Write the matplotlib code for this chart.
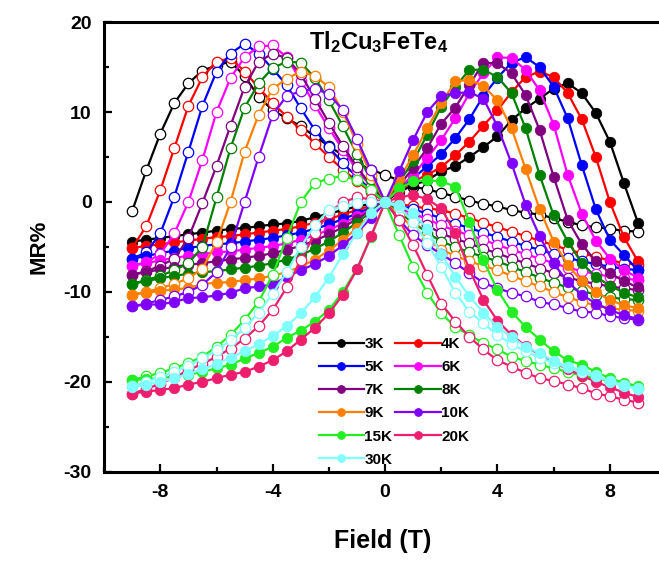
import matplotlib
matplotlib.use("Agg")
import matplotlib.pyplot as plt
from matplotlib.ticker import MultipleLocator

plt.rcParams['font.family'] = ['Liberation Sans', 'DejaVu Sans']
plt.rcParams['font.weight'] = 'bold'
plt.rcParams['axes.unicode_minus'] = False
plt.rcParams['mathtext.fontset'] = 'custom'
plt.rcParams['mathtext.bf'] = 'Liberation Sans:bold'
plt.rcParams['mathtext.rm'] = 'Liberation Sans:bold'

# field grid (T), -9 .. 9 in 0.5 T steps
field = [-9, -8.5, -8, -7.5, -7, -6.5, -6, -5.5, -5, -4.5, -4, -3.5, -3, -2.5, -2, -1.5, -1, -0.5,
         0, 0.5, 1, 1.5, 2, 2.5, 3, 3.5, 4, 4.5, 5, 5.5, 6, 6.5, 7, 7.5, 8, 8.5, 9]

temps = ['3K', '4K', '5K', '6K', '7K', '8K', '9K', '10K', '15K', '20K', '30K']
colors = ['#000000', '#ff0000', '#0000ff', '#ff00ff', '#800080', '#008000',
          '#ff8000', '#8000ff', '#22ee22', '#ee1e6e', '#80ffff']

# sweep up (-9 -> 9), filled symbols
mr_up_3K = [-4.4, -4.2, -4.0, -3.8, -3.6, -3.4, -3.2, -3.0, -2.9, -2.7, -2.5, -2.4, -2.1, -1.7, -1.3, -0.9, -0.5, -0.2,
            0, 1.1, 1.9, 2.4, 3.4, 4.0, 5.0, 6.1, 7.3, 9.1, 10.4, 11.5, 12.6, 13.2, 12.1, 9.9, 6.7, 2.1, -2.3]
mr_up_4K = [-5.1, -4.9, -4.7, -4.5, -4.3, -4.1, -3.9, -3.8, -3.6, -3.4, -3.2, -3.0, -2.7, -2.3, -1.9, -1.4, -0.9, -0.4,
            0, 1.3, 2.3, 3.0, 3.9, 5.2, 6.7, 8.5, 10.2, 12.2, 13.9, 14.5, 13.9, 12.1, 9.2, 5.0, 0.0, -3.9, -6.6]
mr_up_5K = [-6.3, -6.0, -5.7, -5.4, -5.1, -4.9, -4.7, -4.6, -4.4, -4.2, -4.0, -3.7, -3.4, -3.0, -2.5, -1.9, -1.3, -0.6,
            0, 1.5, 2.6, 4.0, 5.3, 7.1, 9.2, 11.8, 13.8, 15.5, 16.1, 15.0, 12.8, 9.3, 4.1, -0.8, -4.2, -5.9, -7.6]
mr_up_6K = [-7.1, -6.8, -6.5, -6.2, -6.0, -5.8, -5.6, -5.5, -5.3, -5.1, -4.9, -4.6, -4.2, -3.7, -3.1, -2.4, -1.6, -0.8,
            0, 1.5, 3.0, 4.9, 6.9, 9.3, 12.1, 14.3, 16.1, 16.0, 14.7, 12.4, 8.6, 3.0, -1.3, -4.3, -6.3, -7.6, -8.4]
mr_up_7K = [-8.1, -7.8, -7.5, -7.2, -7.0, -6.8, -6.6, -6.4, -6.2, -6.0, -5.7, -5.3, -4.9, -4.3, -3.6, -2.8, -1.9, -0.9,
            0, 1.8, 3.8, 6.0, 8.7, 10.5, 13.0, 15.5, 15.4, 14.3, 11.9, 8.0, 2.8, -2.0, -4.7, -6.6, -7.9, -8.8, -9.5]
mr_up_8K = [-9.1, -8.8, -8.5, -8.2, -8.0, -7.8, -7.7, -7.5, -7.3, -7.1, -6.8, -6.4, -5.9, -5.2, -4.4, -3.4, -2.3, -1.1,
            0, 2.2, 4.5, 7.5, 10.6, 12.8, 14.7, 14.7, 13.9, 12.1, 8.2, 3.0, -1.5, -4.4, -6.8, -8.3, -9.3, -10.1, -10.6]
mr_up_9K = [-10.3, -10.1, -9.9, -9.7, -9.6, -9.1, -9.0, -8.9, -8.7, -8.5, -8.2, -7.8, -7.2, -6.4, -5.4, -4.2, -2.9, -1.4,
            0, 2.5, 5.2, 8.2, 11.0, 13.4, 13.6, 12.9, 11.3, 8.2, 3.7, -0.8, -4.4, -7.0, -8.8, -10.0, -10.9, -11.5, -11.8]
mr_up_10K = [-11.6, -11.4, -11.4, -11.1, -10.7, -10.6, -10.4, -10.1, -9.6, -9.4, -9.2, -8.3, -7.6, -6.9, -6.0, -4.8, -3.4, -1.8,
             0, 3.4, 6.9, 10.0, 11.8, 12.1, 12.2, 11.5, 8.4, 4.3, -0.3, -3.8, -6.8, -8.9, -10.3, -11.3, -12.0, -12.6, -13.0]
mr_up_15K = [-19.8, -19.7, -19.6, -19.4, -19.2, -18.9, -18.5, -18.1, -17.4, -16.8, -16.1, -15.1, -14.3, -13.3, -12.0, -10.0, -7.4, -3.9,
             0, 1.5, 2.3, 2.4, 2.3, 1.7, -2.2, -6.5, -9.8, -12.2, -13.9, -15.3, -16.6, -17.6, -18.1, -18.9, -19.6, -20.1, -20.5]
mr_up_20K = [-21.3, -21.1, -20.9, -20.7, -20.3, -20.0, -19.6, -19.2, -18.9, -18.3, -17.6, -16.6, -15.3, -14.0, -12.4, -10.3, -7.5, -3.8,
             0, 0.5, 0.8, 0.3, -0.7, -3.5, -7.5, -10.9, -13.2, -14.8, -16.0, -17.0, -17.8, -18.6, -19.3, -20.0, -20.6, -21.2, -21.7]
mr_up_30K = [-20.6, -20.3, -20.0, -19.6, -19.1, -18.6, -18.0, -17.3, -16.6, -15.8, -14.9, -13.8, -12.4, -10.6, -8.4, -5.8, -3.4, -1.2,
             0, -0.3, -1.2, -3.0, -5.8, -8.3, -10.5, -12.3, -13.9, -15.0, -16.1, -16.8, -17.7, -18.3, -18.7, -19.2, -20.0, -20.5, -20.7]

# sweep down (9 -> -9), open symbols
mr_dn_3K = [-1.0, 3.5, 7.6, 11.0, 13.2, 14.6, 15.2, 15.6, 14.0, 11.7, 10.2, 9.3, 8.4, 7.3, 6.2, 5.2, 4.3, 3.6,
            3.0, 2.4, 1.7, 1.4, 1.0, 0.6, 0.15, -0.2, -0.5, -0.9, -1.2, -1.4, -1.8, -2.2, -2.6, -2.8, -3.0, -3.2, -3.3]
mr_dn_4K = [-5.1, -2.7, 1.3, 6.0, 10.7, 13.9, 15.6, 16.0, 14.5, 12.7, 11.0, 9.5, 8.0, 6.5, 5.0, 3.6, 2.3, 1.1,
            0, -0.2, -0.5, -0.7, -0.9, -1.3, -1.8, -2.3, -2.8, -3.3, -3.8, -4.3, -4.8, -5.3, -5.7, -6.1, -6.5, -6.8, -7.0]
mr_dn_5K = [-6.3, -5.6, -3.5, 0.6, 5.6, 10.7, 14.5, 16.5, 17.6, 16.5, 14.8, 13.0, 10.4, 8.0, 6.1, 4.3, 2.8, 1.3,
            0, -0.4, -0.8, -1.3, -1.8, -2.4, -2.9, -3.4, -3.9, -4.4, -4.9, -5.3, -5.8, -6.2, -6.6, -6.9, -7.2, -7.4, -7.6]
mr_dn_6K = [-7.1, -6.7, -5.8, -3.5, 0.0, 4.7, 10.0, 13.8, 16.1, 17.3, 17.4, 16.1, 13.5, 10.8, 8.2, 5.8, 3.6, 1.7,
            0, -0.7, -1.3, -1.9, -2.6, -3.2, -3.7, -4.2, -4.8, -5.3, -5.8, -6.3, -6.8, -7.3, -7.7, -8.0, -8.3, -8.5, -8.7]
mr_dn_7K = [-8.1, -7.7, -7.1, -6.3, -4.0, -0.1, 4.0, 8.5, 12.8, 15.6, 16.5, 16.0, 14.2, 11.5, 8.8, 6.2, 3.9, 1.8,
            0, -0.9, -1.8, -2.6, -3.5, -4.1, -4.6, -5.2, -5.7, -6.3, -6.8, -7.4, -7.9, -8.4, -8.8, -9.1, -9.4, -9.6, -9.8]
mr_dn_8K = [-9.1, -8.7, -8.2, -7.6, -6.8, -5.0, 0.5, 6.0, 10.5, 13.2, 14.9, 15.6, 15.5, 13.8, 11.3, 8.4, 5.3, 2.5,
            0, -1.2, -2.3, -3.4, -4.4, -5.0, -5.6, -6.1, -6.6, -7.2, -7.8, -8.4, -9.0, -9.5, -9.9, -10.3, -10.6, -10.8, -10.9]
mr_dn_9K = [-10.3, -10.0, -9.6, -9.1, -8.5, -7.4, -4.5, 0.0, 5.6, 9.7, 12.6, 13.7, 14.5, 14.0, 12.8, 10.0, 6.5, 3.0,
            0, -1.5, -2.8, -4.1, -5.3, -6.0, -6.6, -7.1, -7.6, -8.2, -8.8, -9.4, -10.0, -10.6, -11.1, -11.5, -11.8, -12.0, -12.1]
mr_dn_10K = [-11.6, -11.3, -10.9, -10.5, -10.0, -9.2, -7.8, -5.0, 0.0, 5.0, 9.7, 11.8, 12.3, 12.6, 12.0, 10.2, 7.0, 3.5,
             0, -2.0, -3.7, -4.8, -5.8, -6.8, -7.9, -9.0, -9.6, -10.1, -10.5, -11.1, -11.4, -11.8, -12.2, -12.3, -12.7, -12.9, -13.1]
mr_dn_15K = [-19.8, -19.4, -19.0, -18.5, -17.9, -17.2, -16.1, -14.8, -13.1, -11.1, -8.1, -4.0, 0.0, 2.1, 2.6, 2.9, 2.4, 1.3,
             0, -3.7, -7.2, -10.1, -12.4, -13.9, -14.8, -15.7, -16.4, -17.2, -17.7, -18.1, -18.5, -18.9, -19.3, -19.6, -19.9, -20.3, -20.7]
mr_dn_20K = [-21.3, -20.8, -20.2, -19.5, -18.7, -18.0, -17.2, -16.3, -15.2, -13.8, -12.0, -9.5, -6.5, -3.5, -1.2, 0.0, 0.5, 0.3,
             0, -2.0, -4.8, -8.1, -11.3, -13.3, -15.0, -16.4, -17.6, -18.3, -19.0, -19.6, -19.9, -20.3, -20.7, -21.3, -21.6, -22.0, -22.3]
mr_dn_30K = [-20.5, -20.0, -19.5, -18.9, -18.2, -17.4, -16.5, -15.4, -14.0, -12.3, -10.2, -7.8, -5.0, -2.6, -0.9, -0.5, -0.1, 0.0,
             0, -0.6, -2.2, -4.6, -7.2, -10.1, -12.2, -13.5, -14.8, -15.8, -16.6, -17.3, -17.9, -18.4, -18.9, -19.4, -19.9, -20.4, -20.8]

mr_up = [mr_up_3K, mr_up_4K, mr_up_5K, mr_up_6K, mr_up_7K, mr_up_8K, mr_up_9K, mr_up_10K, mr_up_15K, mr_up_20K, mr_up_30K]
mr_dn = [mr_dn_3K, mr_dn_4K, mr_dn_5K, mr_dn_6K, mr_dn_7K, mr_dn_8K, mr_dn_9K, mr_dn_10K, mr_dn_15K, mr_dn_20K, mr_dn_30K]

fig = plt.figure(figsize=(6.59, 5.67), dpi=100)
ax = fig.add_axes([0.158, 0.168, 0.845, 0.793])

handles = {}
for t, c, up, dn in zip(temps, colors, mr_up, mr_dn):
    ax.plot(field, dn, '-o', color=c, lw=1.6, ms=7.5, mfc='white', mec=c, mew=0.9)
    h, = ax.plot(field, up, '-o', color=c, lw=1.6, ms=7.5, mfc=c, mec=c, mew=0.6, label=t)
    handles[t] = h

ax.set_xlim(-10, 9.82)
ax.set_ylim(-30, 20)
ax.xaxis.set_major_locator(MultipleLocator(4))
ax.xaxis.set_minor_locator(MultipleLocator(2))
ax.yaxis.set_major_locator(MultipleLocator(10))
ax.yaxis.set_minor_locator(MultipleLocator(5))
ax.tick_params(which='both', direction='in', top=False, right=False, width=1.6)
ax.tick_params(which='major', length=6, labelsize=14, pad=9)
ax.tick_params(which='minor', length=3.5)
for s in ['left', 'bottom', 'top']:
    ax.spines[s].set_linewidth(2.2)
ax.spines['right'].set_visible(False)
for lab in ax.get_xticklabels() + ax.get_yticklabels():
    lab.set_fontweight('bold')

ax.set_xlabel('Field (T)', fontsize=18, fontweight='bold', labelpad=20)
ax.set_ylabel('MR%', fontsize=16, fontweight='bold', labelpad=10)

ax.text(0.493, 0.985, r'$\mathbf{Tl_{2}Cu_{3}FeTe_{4}}$', transform=ax.transAxes,
        ha='center', va='top', fontsize=17)

# row-major layout of the two-column legend
order = ['3K', '5K', '7K', '9K', '15K', '30K', '4K', '6K', '8K', '10K', '20K']
ax.legend([handles[k] for k in order], order, loc='upper left', bbox_to_anchor=(0.385, 0.30),
          ncol=2, frameon=False, prop={'weight': 'bold', 'size': 11},
          handlelength=3.0, handletextpad=0.0, columnspacing=0.2, labelspacing=0.6,
          markerscale=0.75, borderpad=0, borderaxespad=0)

fig.savefig('out.png', dpi=100)
